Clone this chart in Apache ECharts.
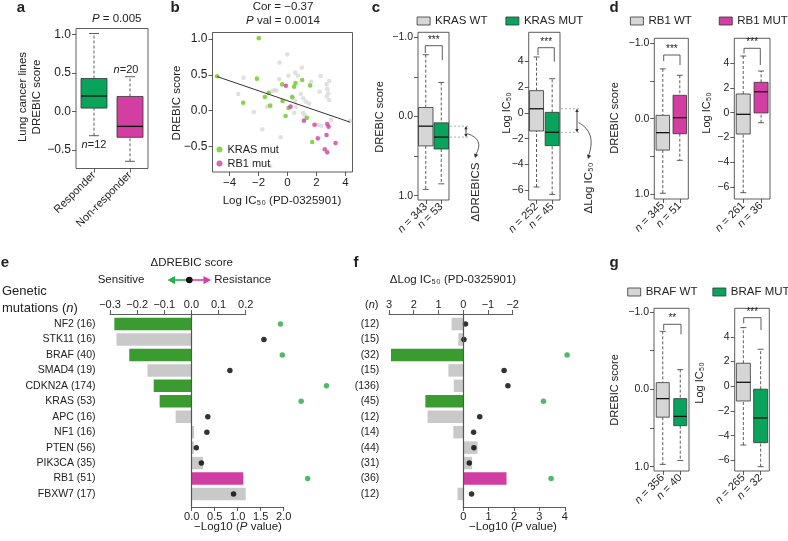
<!DOCTYPE html>
<html>
<head>
<meta charset="utf-8">
<script src="https://cdn.jsdelivr.net/npm/echarts@6/dist/echarts.min.js"></script>
<style>
  html, body { margin: 0; padding: 0; background: #fff; }
  #chart { width: 788px; height: 541px; }
</style>
</head>
<body>
<div id="chart"></div>
<script>
// ---- panel a: responder vs non-responder (lo, q1, median, q3, hi)
const aGroups = ['Responder', 'Non-responder']
const aBoxes = [[-0.315, 0.043, 0.20, 0.427, 1.01], [-0.647, -0.336, -0.194, 0.194, 0.45]]
const aN = [12, 20]
const aTicks = [-0.5, 0, 0.5, 1.0]

// ---- panel b: DREBIC score vs log IC50
const bKras = [[-1.98, 1.01], [-4.85, 0.48], [-2.11, 0.446], [-1.29, 0.25], [-1.56, 0.19], [-3.05, 0.11],
  [-1.19, 0.07], [-0.37, 0.367], [-0.34, 0.135], [0.07, 0.037], [-0.13, -0.075], [0.33, 0.186],
  [0.46, 0.335], [0.55, 0.385], [1.01, 0.427], [1.56, 0.35], [1.33, -0.1], [1.70, -0.436]]
const bRb1 = [[-0.11, 0.348], [0.21, 0.056], [1.13, -0.139], [1.86, -0.195], [2.74, -0.186], [2.83, -0.223],
  [2.69, -0.338], [2.09, -0.385], [3.31, -0.45], [2.57, -0.538], [2.74, -0.58]]
const bOther = [[-0.02, 0.785], [-0.55, 0.67], [0.99, 0.60], [0.53, 0.53], [0.07, 0.487], [-0.57, 0.44],
  [-3.03, 0.46], [2.28, 0.483], [2.87, 0.413], [1.63, 0.404], [2.69, 0.367], [0.71, 0.487], [-0.9, 0.284],
  [-1.01, 0.275], [-3.40, 0.233], [2.21, 0.265], [2.74, 0.30], [2.81, 0.24], [2.71, 0.2], [0.92, 0.233],
  [1.08, 0.172], [1.26, 0.126], [1.49, 0.098], [0.30, 0.2], [0.53, 0.14], [0.58, 0.056], [-1.40, 0.056],
  [-2.32, -0.02], [0.46, -0.03], [1.08, -0.03], [1.17, -0.06], [2.32, -0.21], [2.09, -0.2], [-1.74, -0.26],
  [-0.48, -0.37], [-1.19, -0.77], [4.31, -0.143], [2.87, 0.148], [3.0, -0.125], [-0.76, 0.28]]
const bFit = { intercept: 0.139, slope: -0.0693 }
const bXTicks = [-4, -2, 0, 2, 4]
const bYTicks = [-0.5, 0, 0.5, 1.0]

// ---- panels c, d, g: WT vs MUT boxes (lo, q1, median, q3, hi)
const cDrebicWT = [-0.78, -0.114, 0.122, 0.371, 0.92]
const cDrebicMUT = [-0.43, 0.08, 0.26, 0.41, 0.85]
const cDrebicN = [343, 53]
const cIcWT = [-5.76, -1.40, 0.33, 1.74, 4.36]
const cIcMUT = [-6.33, -2.54, -1.5, 0.05, 2.67]
const cIcN = [252, 45]
const dDrebicWT = [-0.66, -0.044, 0.186, 0.417, 0.99]
const dDrebicMUT = [-0.575, -0.31, -0.013, 0.2, 0.553]
const dDrebicN = [345, 51]
const dIcWT = [-6.45, -1.72, -0.13, 1.51, 4.57]
const dIcMUT = [-0.81, -0.02, 1.69, 2.45, 3.36]
const dIcN = [261, 36]
const gDrebicWT = [-0.75, -0.087, 0.12, 0.36, 0.97]
const gDrebicMUT = [-0.255, 0.12, 0.35, 0.47, 0.92]
const gDrebicN = [356, 40]
const gIcWT = [-4.75, -1.19, 0.32, 1.86, 4.74]
const gIcMUT = [-6.5, -4.56, -2.56, -0.24, 2.99]
const gIcN = [265, 32]
const drebicTicks = [-1, -0.5, 0, 0.5, 1]
const drebicLabels = [-1, 0, 1]
const icTicks = [-6, -4, -2, 0, 2, 4]

// ---- panel e: delta DREBIC score per mutation
const eGenes = ['NF2', 'STK11', 'BRAF', 'SMAD4', 'CDKN2A', 'KRAS', 'APC', 'NF1', 'PTEN', 'PIK3CA', 'RB1', 'FBXW7']
const eN = [16, 16, 40, 19, 174, 53, 16, 16, 56, 35, 51, 17]
const eDelta = [-0.284, -0.276, -0.229, -0.162, -0.139, -0.117, -0.058, 0.01, 0.009, 0.043, 0.191, 0.236]
const eLogP = [1.93, 1.57, 1.97, 0.83, 2.93, 2.38, 0.35, 0.33, 0.10, 0.21, 2.52, 0.91]
const eBarClass = ['sens', 'ns', 'sens', 'ns', 'sens', 'sens', 'ns', 'ns', 'ns', 'ns', 'res', 'ns']
const eSig = [1, 0, 1, 0, 1, 1, 0, 0, 0, 0, 1, 0]
const eTopTicks = [-0.3, -0.2, -0.1, 0, 0.1, 0.2]
const ePTicks = [0, 0.5, 1, 1.5, 2]

// ---- panel f: delta log IC50 per mutation
const fN = [12, 15, 32, 15, 136, 45, 12, 14, 44, 31, 36, 12]
const fDelta = [0.47, 0.2, 2.92, 0.6, 0.38, 1.53, 1.44, 0.4, -0.58, -0.36, -1.75, 0.23]
const fLogP = [0.09, 0.03, 4.09, 1.61, 1.76, 3.16, 0.65, 0.41, 0.42, 0.24, 3.46, 0.33]
const fBarClass = ['ns', 'ns', 'sens', 'ns', 'ns', 'sens', 'ns', 'ns', 'ns', 'ns', 'res', 'ns']
const fSig = [0, 0, 1, 0, 0, 1, 0, 0, 0, 0, 1, 0]
const fTopTicks = [3, 2, 1, 0, -1, -2]
const fPTicks = [0, 1, 2, 3, 4]

const FONT = '"Liberation Sans", Arial, Helvetica, sans-serif'
const INK = '#333'
const TXT = '#222'
const GREEN = '#0aa35c'
const MAG = '#d23ea1'
const GREY = '#d6d6d6'
const BAR_COLORS = { sens: '#3a9b30', ns: '#c9c9c9', res: '#d03ea2' }
const DOT_GREEN = '#27a843'

const fmt1 = v => (v < 0 ? '\u2212' : '') + Math.abs(v).toFixed(1)
const fmt0 = v => (v < 0 ? '\u2212' : '') + Math.abs(v)
const nFmt = v => '{i|n} = ' + v

const chart = echarts.init(document.getElementById('chart'))

// R-style box: dashed whiskers, caps, filled box, thick median
function boxRenderer(boxW, capW) {
  return function (params, api) {
    const c = api.value(0)
    const p = [1, 2, 3, 4, 5].map(i => api.coord([c, api.value(i)]))
    const cx = p[0][0]
    const solid = { stroke: INK, lineWidth: 0.8 }
    const dashed = { stroke: INK, lineWidth: 0.8, lineDash: [3, 2] }
    const y0 = Math.min(p[1][1], p[3][1])
    const y1 = Math.max(p[1][1], p[3][1])
    return {
      type: 'group',
      children: [
        { type: 'line', shape: { x1: cx, y1: p[0][1], x2: cx, y2: p[1][1] }, style: dashed },
        { type: 'line', shape: { x1: cx, y1: p[3][1], x2: cx, y2: p[4][1] }, style: dashed },
        { type: 'line', shape: { x1: cx - capW / 2, y1: p[0][1], x2: cx + capW / 2, y2: p[0][1] }, style: solid },
        { type: 'line', shape: { x1: cx - capW / 2, y1: p[4][1], x2: cx + capW / 2, y2: p[4][1] }, style: solid },
        { type: 'rect', shape: { x: cx - boxW / 2, y: y0, width: boxW, height: y1 - y0 },
          style: { fill: api.visual('color'), stroke: INK, lineWidth: 0.8 } },
        { type: 'line', shape: { x1: cx - boxW / 2, y1: p[2][1], x2: cx + boxW / 2, y2: p[2][1] },
          style: { stroke: '#111', lineWidth: 1.3 } }
      ]
    }
  }
}

function boxSeries(name, gi, cat, box, color, boxW, capW) {
  return {
    type: 'custom', name, xAxisIndex: gi, yAxisIndex: gi, silent: true,
    renderItem: boxRenderer(boxW, capW), itemStyle: { color },
    encode: { x: 0, y: [1, 2, 3, 4, 5] },
    data: [[cat].concat(box)]
  }
}

function tick(values) {
  return { show: true, length: 4, customValues: values, lineStyle: { color: INK, width: 0.8 } }
}
function label(values, fmt, size, margin) {
  return { show: true, customValues: values, formatter: fmt, fontSize: size, margin, color: TXT, fontFamily: FONT }
}
function catAxis(gi, data, fmt) {
  return {
    type: 'category', gridIndex: gi, data, position: 'bottom',
    axisLine: { show: false, onZero: false },
    axisTick: { show: true, alignWithLabel: true, length: 4, lineStyle: { color: INK, width: 0.8 } },
    axisLabel: {
      rotate: 45, margin: 5, interval: 0, fontSize: 11, color: TXT, fontFamily: FONT, formatter: fmt,
      rich: { i: { fontStyle: 'italic', fontSize: 11, color: TXT, fontFamily: FONT } }
    },
    splitLine: { show: false }
  }
}
function valAxis(gi, min, max, ticks, labels, fmt, opts) {
  opts = opts || {}
  return {
    type: 'value', gridIndex: gi, min, max, inverse: !!opts.inverse, position: opts.position || 'left',
    axisLine: { show: !!opts.line, onZero: false, lineStyle: { color: INK, width: 0.8 } },
    axisTick: tick(ticks),
    axisLabel: label(labels, fmt, opts.size || 10.5, opts.margin || 5),
    splitLine: { show: false }
  }
}
function hidden(gi, type, extra) {
  return Object.assign({ type, gridIndex: gi, show: false, axisLine: { onZero: false }, splitLine: { show: false } }, extra || {})
}

const framed = { show: true, borderColor: INK, borderWidth: 0.8, backgroundColor: 'transparent' }
const grids = [
  Object.assign({ left: 76, top: 28.5, width: 72, height: 140 }, framed),          // 0 a
  Object.assign({ left: 212.5, top: 32.5, width: 140, height: 139.5 }, framed),    // 1 b
  Object.assign({ left: 418, top: 32.3, width: 31, height: 167.7 }, framed),       // 2 c drebic
  Object.assign({ left: 528.7, top: 32.3, width: 31.3, height: 167.7 }, framed),   // 3 c ic50
  Object.assign({ left: 654.3, top: 38.3, width: 34, height: 160.7 }, framed),     // 4 d drebic
  Object.assign({ left: 734.3, top: 38.3, width: 35.7, height: 160.7 }, framed),   // 5 d ic50
  Object.assign({ left: 654, top: 308.3, width: 35, height: 162.7 }, framed),      // 6 g drebic
  Object.assign({ left: 734.7, top: 308.3, width: 34.6, height: 162.7 }, framed),  // 7 g ic50
  { left: 110, top: 314, width: 135.7, height: 193 },       // 8 e frame (top axis + zero line)
  { left: 110, top: 316.3, width: 135.7, height: 185.4 },   // 9 e bars
  { left: 191.7, top: 314, width: 92, height: 193 },        // 10 e p-value axis
  { left: 191.7, top: 316.3, width: 92, height: 185.4 },    // 11 e dots
  { left: 389, top: 314, width: 123.7, height: 193 },       // 12 f frame
  { left: 389, top: 316.3, width: 123.7, height: 185.4 },   // 13 f bars
  { left: 463.2, top: 314, width: 101.6, height: 193 },     // 14 f p-value axis
  { left: 463.2, top: 316.3, width: 101.6, height: 185.4 }  // 15 f dots
]

const eLabels = eGenes.map((g, i) => g + ' (' + eN[i] + ')')
const fLabels = fN.map(n => '(' + n + ')')

const xAxes = [
  catAxis(0, aGroups, v => v),
  valAxis(1, -5.17, 4.48, bXTicks, bXTicks, fmt0, { position: 'bottom', size: 11.5 }),
  catAxis(2, cDrebicN.map(String), nFmt),
  catAxis(3, cIcN.map(String), nFmt),
  catAxis(4, dDrebicN.map(String), nFmt),
  catAxis(5, dIcN.map(String), nFmt),
  catAxis(6, gDrebicN.map(String), nFmt),
  catAxis(7, gIcN.map(String), nFmt),
  valAxis(8, -0.3, 0.2, eTopTicks, eTopTicks, fmt1, { position: 'top', line: true, size: 11, margin: 4 }),
  hidden(9, 'value', { min: -0.3, max: 0.2 }),
  valAxis(10, 0, 2, ePTicks, ePTicks, fmt1, { position: 'bottom', line: true, size: 11, margin: 4 }),
  hidden(11, 'value', { min: 0, max: 2 }),
  valAxis(12, -2, 3, fTopTicks, fTopTicks, fmt0, { position: 'top', line: true, size: 11, margin: 4, inverse: true }),
  hidden(13, 'value', { min: -2, max: 3, inverse: true }),
  valAxis(14, 0, 4, fPTicks, fPTicks, fmt0, { position: 'bottom', line: true, size: 11, margin: 4 }),
  hidden(15, 'value', { min: 0, max: 4 })
]

const zeroLine = gi => ({
  type: 'value', gridIndex: gi, min: 0, max: 1, z: 5,
  axisLine: { show: true, onZero: true, lineStyle: { color: '#555', width: 1.2 } },
  axisTick: { show: false }, axisLabel: { show: false }, splitLine: { show: false }
})
const rowAxis = (gi, data, margin, show) => ({
  type: 'category', gridIndex: gi, data, inverse: true, show,
  axisLine: { show: false, onZero: false }, axisTick: { show: false }, splitLine: { show: false },
  axisLabel: { margin, fontSize: 10.5, color: TXT, fontFamily: FONT }
})

const yAxes = [
  valAxis(0, -0.74, 1.075, aTicks, aTicks, fmt1, { size: 12 }),
  valAxis(1, -0.854, 1.089, bYTicks, bYTicks, fmt1, { size: 12 }),
  valAxis(2, -1.063, 1.054, drebicTicks, drebicLabels, fmt1, { inverse: true }),
  valAxis(3, -6.77, 6.28, icTicks, icTicks, fmt0),
  valAxis(4, -1.066, 1.066, drebicTicks, drebicLabels, fmt1, { inverse: true }),
  valAxis(5, -6.96, 6.0, icTicks, icTicks, fmt0),
  valAxis(6, -1.048, 1.056, drebicTicks, drebicLabels, fmt1, { inverse: true }),
  valAxis(7, -6.85, 6.3, icTicks, icTicks, fmt0),
  zeroLine(8),
  rowAxis(9, eLabels, 14.5, true),
  hidden(10, 'value', { min: 0, max: 1 }),
  rowAxis(11, eLabels, 0, false),
  zeroLine(12),
  rowAxis(13, fLabels, 9.7, true),
  hidden(14, 'value', { min: 0, max: 1 }),
  rowAxis(15, fLabels, 0, false)
]

const allB = bKras.concat(bRb1, bOther)
const bxMin = Math.min.apply(null, allB.map(p => p[0]))
const bxMax = Math.max.apply(null, allB.map(p => p[0]))

const series = [
  boxSeries('Responder', 0, 0, aBoxes[0], GREEN, 26, 10),
  boxSeries('Non-responder', 0, 1, aBoxes[1], MAG, 26, 10),
  { type: 'scatter', name: 'other', xAxisIndex: 1, yAxisIndex: 1, data: bOther, symbolSize: 4.6,
    itemStyle: { color: '#d9d9d9' }, silent: true },
  { type: 'scatter', name: 'KRAS mut', xAxisIndex: 1, yAxisIndex: 1, data: bKras, symbolSize: 4.6,
    itemStyle: { color: '#69c81c' }, silent: true },
  { type: 'scatter', name: 'RB1 mut', xAxisIndex: 1, yAxisIndex: 1, data: bRb1, symbolSize: 4.6,
    itemStyle: { color: MAG }, silent: true },
  { type: 'line', name: 'fit', xAxisIndex: 1, yAxisIndex: 1, showSymbol: false, silent: true,
    lineStyle: { color: INK, width: 1 },
    data: [[bxMin, bFit.intercept + bFit.slope * bxMin], [bxMax, bFit.intercept + bFit.slope * bxMax]] },
  boxSeries('KRAS WT', 2, 0, cDrebicWT, GREY, 14.5, 6),
  boxSeries('KRAS MUT', 2, 1, cDrebicMUT, GREEN, 14.5, 6),
  boxSeries('KRAS WT', 3, 0, cIcWT, GREY, 14, 6),
  boxSeries('KRAS MUT', 3, 1, cIcMUT, GREEN, 14, 6),
  boxSeries('RB1 WT', 4, 0, dDrebicWT, GREY, 13.5, 6),
  boxSeries('RB1 MUT', 4, 1, dDrebicMUT, MAG, 13.5, 6),
  boxSeries('RB1 WT', 5, 0, dIcWT, GREY, 14, 6),
  boxSeries('RB1 MUT', 5, 1, dIcMUT, MAG, 14, 6),
  boxSeries('BRAF WT', 6, 0, gDrebicWT, GREY, 13, 6),
  boxSeries('BRAF MUT', 6, 1, gDrebicMUT, GREEN, 13, 6),
  boxSeries('BRAF WT', 7, 0, gIcWT, GREY, 14, 6),
  boxSeries('BRAF MUT', 7, 1, gIcMUT, GREEN, 14, 6),
  { type: 'bar', xAxisIndex: 9, yAxisIndex: 9, barWidth: 12.5, silent: true,
    data: eDelta.map((v, i) => ({ value: v, itemStyle: { color: BAR_COLORS[eBarClass[i]] } })) },
  { type: 'scatter', xAxisIndex: 11, yAxisIndex: 11, symbolSize: 5.5, clip: false, silent: true,
    data: eLogP.map((v, i) => ({ value: [v, i], itemStyle: { color: eSig[i] ? DOT_GREEN : '#000' } })) },
  { type: 'bar', xAxisIndex: 13, yAxisIndex: 13, barWidth: 12.5, silent: true,
    data: fDelta.map((v, i) => ({ value: v, itemStyle: { color: BAR_COLORS[fBarClass[i]] } })) },
  { type: 'scatter', xAxisIndex: 15, yAxisIndex: 15, symbolSize: 5.5, clip: false, silent: true,
    data: fLogP.map((v, i) => ({ value: [v, i], itemStyle: { color: fSig[i] ? DOT_GREEN : '#000' } })) }
]

const legendText = { fontSize: 11.5, color: TXT, fontFamily: FONT }
const boxLegend = (data, left, top, gap) => ({
  data, left, top, width: 200, itemGap: gap, padding: 0, icon: 'rect', itemWidth: 13, itemHeight: 8,
  selectedMode: false, textStyle: legendText, itemStyle: { borderColor: INK, borderWidth: 0.8 }
})

chart.setOption({
  animation: false,
  textStyle: { fontFamily: FONT },
  grid: grids,
  xAxis: xAxes,
  yAxis: yAxes,
  legend: [
    { data: ['KRAS mut', 'RB1 mut'], left: 216.5, top: 144, orient: 'vertical', itemGap: 3, padding: 0,
      icon: 'circle', itemWidth: 6, itemHeight: 6, selectedMode: false,
      textStyle: { fontSize: 11, color: TXT, fontFamily: FONT } },
    boxLegend(['KRAS WT', 'KRAS MUT'], 416.7, 15, 18),
    boxLegend(['RB1 WT', 'RB1 MUT'], 630, 15, 27),
    boxLegend(['BRAF WT', 'BRAF MUT'], 627.3, 286, 15)
  ],
  series
})

// ---- annotations
const rich = size => ({ i: { fontStyle: 'italic', fontSize: size, fontFamily: FONT, fill: TXT, color: TXT } })
function T(x, y, text, o) {
  o = o || {}
  const size = o.size || 11.5
  return {
    type: 'text', x, y, rotation: o.rot || 0, silent: true, z: 100,
    style: {
      text, fill: o.color || TXT, fontSize: size, fontFamily: FONT,
      fontWeight: o.bold ? 'bold' : 'normal',
      align: o.align || 'center', verticalAlign: 'middle',
      textAlign: o.align || 'center', textVerticalAlign: 'middle',
      lineHeight: o.lh || size * 1.2, rich: rich(size)
    }
  }
}
function L(points, o) {
  o = o || {}
  return { type: 'polyline', silent: true, z: 100, shape: { points },
    style: { stroke: o.color || INK, lineWidth: o.w || 0.8, lineDash: o.dash || null, fill: null } }
}
function head(x, y, dx, dy, size, color) {
  // triangle with tip at (x, y) pointing along (dx, dy)
  const len = Math.hypot(dx, dy); const ux = dx / len; const uy = dy / len
  const bx = x - ux * size; const by = y - uy * size
  const w = size * 0.55
  return { type: 'polygon', silent: true, z: 100,
    shape: { points: [[x, y], [bx - uy * w, by + ux * w], [bx + uy * w, by - ux * w]] },
    style: { fill: color || INK } }
}
function curve(x1, y1, cx, cy, x2, y2) {
  return { type: 'bezierCurve', silent: true, z: 100,
    shape: { x1, y1, cpx1: cx, cpy1: cy, x2, y2 }, style: { stroke: INK, lineWidth: 0.8, fill: null } }
}
const px = (gi, cat, v) => chart.convertToPixel({ xAxisIndex: gi, yAxisIndex: gi }, [cat, v])
const R90 = Math.PI / 2

const ann = []
// panel letters
ann.push(T(21, 8, 'a', { size: 15, bold: true }), T(175, 8, 'b', { size: 15, bold: true }),
  T(376, 8, 'c', { size: 15, bold: true }), T(614, 8, 'd', { size: 15, bold: true }),
  T(5, 263, 'e', { size: 15, bold: true }), T(356, 263, 'f', { size: 15, bold: true }),
  T(614, 263, 'g', { size: 15, bold: true }))

// panel a
ann.push(T(116.7, 19, '{i|P} = 0.005'))
ann.push(T(px(0, 0, aBoxes[0][0])[0], px(0, 0, aBoxes[0][0])[1] + 9, '{i|n}=' + aN[0], { size: 11 }))
ann.push(T(px(0, 1, aBoxes[1][4])[0] - 4, px(0, 1, aBoxes[1][4])[1] - 7, '{i|n}=' + aN[1], { size: 11 }))
ann.push(T(30, 97, 'Lung cancer lines\nDREBIC score', { rot: R90, lh: 14 }))

// panel b
ann.push(T(283, 7, 'Cor = \u22120.37'), T(283, 21, '{i|P} val = 0.0014'))
ann.push(T(177, 103, 'DREBIC score', { rot: R90 }))
ann.push(T(282, 201, 'Log IC\u2085\u2080 (PD-0325901)'))

// axis titles of c, d, g
ann.push(T(380, 117, 'DREBIC score', { rot: R90, size: 11 }), T(507, 113, 'Log IC\u2085\u2080', { rot: R90, size: 11 }))
ann.push(T(615, 118, 'DREBIC score', { rot: R90, size: 11 }), T(707, 113, 'Log IC\u2085\u2080', { rot: R90, size: 11 }))
ann.push(T(615, 390, 'DREBIC score', { rot: R90, size: 11 }), T(700, 383, 'Log IC\u2085\u2080', { rot: R90, size: 11 }))

// significance brackets
const sig = (pts, stars, sx, sy) => [L(pts), T(sx, sy, stars, { size: 10 })]
ann.push(...sig([[425.3, 53], [425.3, 45.7], [442.3, 45.7], [442.3, 60]], '***', 433.8, 40))
ann.push(...sig([[538, 55], [538, 47.7], [554.3, 47.7], [554.3, 61.7]], '***', 546.2, 42))
ann.push(...sig([[663.7, 61], [663.7, 55], [680, 55], [680, 65]], '***', 671.9, 49.5))
ann.push(...sig([[744, 53.5], [744, 48.3], [760.3, 48.3], [760.3, 65]], '***', 752.2, 42.5))
ann.push(...sig([[663.7, 330], [663.7, 324.3], [681, 324.3], [681, 334.3]], '**', 672.3, 318.5))
ann.push(...sig([[743.7, 323.3], [743.7, 317.7], [761, 317.7], [761, 330]], '***', 752.3, 312))

// delta annotations in c (from medians)
function deltaMark(gi, medWT, medMUT, xFrom, xTo) {
  const yW = px(gi, 0, medWT)[1]
  const yM = px(gi, 1, medMUT)[1]
  const out = [L([[xFrom, yW], [xTo, yW]], { color: '#9a9a9a', dash: [2, 2] }),
    L([[xFrom, yM], [xTo, yM]], { color: '#9a9a9a', dash: [2, 2] })]
  const xa = xTo - 2
  const top = Math.min(yW, yM); const bot = Math.max(yW, yM)
  out.push(L([[xa, top + 1], [xa, bot - 1]], { w: 0.9 }), head(xa, top, 0, -1, 3.2), head(xa, bot, 0, 1, 3.2))
  return { out, mid: (top + bot) / 2 }
}
const dl = deltaMark(2, cDrebicWT[2], cDrebicMUT[2], 450, 468)
ann.push(...dl.out, curve(467.5, dl.mid + 2, 485, dl.mid + 8, 475.5, 155), head(475, 158, -0.3, 1, 4))
ann.push(T(475.5, 192, '\u0394DREBICS', { rot: R90 }))
const dr = deltaMark(3, cIcWT[2], cIcMUT[2], 561, 579)
ann.push(...dr.out, curve(578.5, dr.mid + 2, 597, dr.mid + 12, 588.5, 156), head(588, 159, -0.3, 1, 4))
ann.push(T(588.5, 188, '\u0394Log IC\u2085\u2080', { rot: R90 }))

// panel e header
ann.push(T(191.7, 263, '\u0394DREBIC score'))
ann.push(T(97.7, 280, 'Sensitive', { align: 'left' }), T(214.3, 280, 'Resistance', { align: 'left' }))
ann.push(L([[189.3, 280], [174, 280]], { color: '#22b24c', w: 1.6 }), head(167.5, 280, -1, 0, 7.5, '#22b24c'))
ann.push(L([[189.3, 280], [204.5, 280]], { color: '#d63fa5', w: 1.6 }), head(211, 280, 1, 0, 7.5, '#d63fa5'))
ann.push({ type: 'circle', silent: true, z: 101, shape: { cx: 189.3, cy: 280, r: 3.3 }, style: { fill: '#111' } })
ann.push(T(2, 291, 'Genetic', { align: 'left', size: 13 }), T(2, 308, 'mutations ({i|n})', { align: 'left', size: 13 }))
ann.push(T(238, 527, '\u2212Log10 ({i|P} value)'))

// panel f header
ann.push(T(453, 280, '\u0394Log IC\u2085\u2080 (PD-0325901)'))
ann.push(T(378.5, 305, '({i|n})', { align: 'right', size: 11 }))
ann.push(T(513, 527, '\u2212Log10 ({i|P} value)'))

chart.setOption({ graphic: { elements: ann } })
</script>
</body>
</html>
